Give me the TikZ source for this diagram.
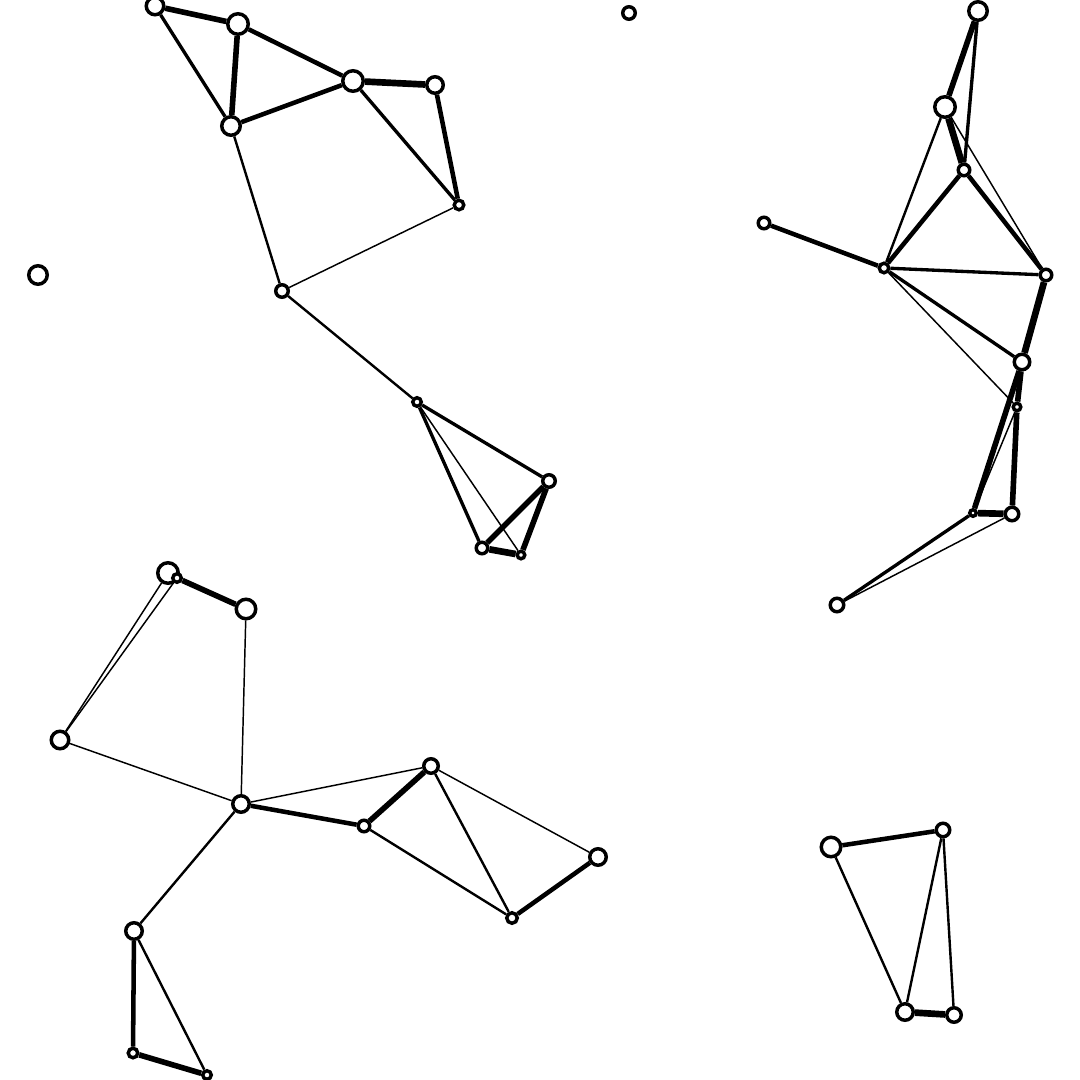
\documentclass[tikz,border=0pt]{standalone}
\usetikzlibrary{backgrounds}

\tikzset{every picture/.style={line width=0.75pt}}
\tikzset{
  vtx/.style={circle, draw, fill=white, line width=2.6pt, inner sep=0pt, minimum size={(#1-3.5)*0.75pt}},
  e1/.style={line width=1.1pt},
  e2/.style={line width=1.8pt},
  e3/.style={line width=2.5pt},
  e4/.style={line width=3.4pt},
  e5/.style={line width=4.2pt},
  e6/.style={line width=5pt}
}

\begin{document}
\begin{tikzpicture}[x=0.75pt,y=0.75pt,yscale=-1,xscale=1]
\useasboundingbox (0,0) rectangle (1080,1080);

%Vertices: top left group
\node [vtx=21] (tl1) at (155,6) {};
\node [vtx=24] (tl2) at (238,24) {};
\node [vtx=22] (tl3) at (231,126) {};
\node [vtx=24] (tl4) at (353,81) {};
\node [vtx=20] (tl5) at (435,85) {};
\node [vtx=13] (tl6) at (459,205) {};
\node [vtx=16] (tl7) at (282,291) {};
\node [vtx=12] (tl8) at (417,402) {};
\node [vtx=16] (tl9) at (549,481) {};
\node [vtx=15] (tl10) at (482,548) {};
\node [vtx=11] (tl11) at (521,555) {};
%Vertices: alone
\node [vtx=16] (solo1) at (629,13) {};
\node [vtx=22] (solo2) at (38,275) {};
%Vertices: top right group
\node [vtx=22] (tr1) at (978,11) {};
\node [vtx=24] (tr2) at (945,107) {};
\node [vtx=15] (tr3) at (964,170) {};
\node [vtx=15] (tr4) at (764,223) {};
\node [vtx=13] (tr5) at (884,268) {};
\node [vtx=15] (tr6) at (1046,275) {};
\node [vtx=19] (tr7) at (1022,362) {};
\node [vtx=11] (tr8) at (1017,407) {};
\node [vtx=10] (tr9) at (973,513) {};
\node [vtx=17] (tr10) at (1012,514) {};
\node [vtx=17] (tr11) at (837,605) {};
%Vertices: bottom left group
\node [vtx=24] (bl1) at (168,573) {};
\node [vtx=12] (bl2) at (177,578) {};
\node [vtx=23] (bl3) at (246,609) {};
\node [vtx=21] (bl4) at (60,740) {};
\node [vtx=20] (bl5) at (241,804) {};
\node [vtx=15] (bl6) at (364,826) {};
\node [vtx=18] (bl7) at (431,766) {};
\node [vtx=20] (bl8) at (598,857) {};
\node [vtx=14] (bl9) at (512,918) {};
\node [vtx=20] (bl10) at (134,931) {};
\node [vtx=13] (bl11) at (133,1053) {};
\node [vtx=12] (bl12) at (207,1075) {};
%Vertices: bottom right group
\node [vtx=23] (br1) at (831,847) {};
\node [vtx=17] (br2) at (943,830) {};
\node [vtx=20] (br3) at (905,1012) {};
\node [vtx=18] (br4) at (954,1015) {};

\begin{pgfonlayer}{background}
%Straight Lines: top left group
\draw [e5] (tl1) -- (tl2) ;
\draw [e3] (tl1) -- (tl3) ;
\draw [e5] (tl2) -- (tl3) ;
\draw [e4] (tl2) -- (tl4) ;
\draw [e4] (tl3) -- (tl4) ;
\draw [e6] (tl4) -- (tl5) ;
\draw [e3] (tl4) -- (tl6) ;
\draw [e4] (tl5) -- (tl6) ;
\draw [e2] (tl3) -- (tl7) ;
\draw [e1] (tl7) -- (tl6) ;
\draw [e2] (tl7) -- (tl8) ;
\draw [e3] (tl8) -- (tl9) ;
\draw [e3] (tl8) -- (tl10) ;
\draw [e1] (tl8) -- (tl11) ;
\draw [e5] (tl9) -- (tl10) ;
\draw [e5] (tl9) -- (tl11) ;
\draw [e6] (tl10) -- (tl11) ;
%Straight Lines: top right group
\draw [e5] (tr1) -- (tr2) ;
\draw [e3] (tr1) -- (tr3) ;
\draw [e6] (tr2) -- (tr3) ;
\draw [e2] (tr2) -- (tr5) ;
\draw [e1] (tr2) -- (tr6) ;
\draw [e4] (tr3) -- (tr5) ;
\draw [e4] (tr3) -- (tr6) ;
\draw [e4] (tr4) -- (tr5) ;
\draw [e3] (tr5) -- (tr6) ;
\draw [e3] (tr5) -- (tr7) ;
\draw [e1] (tr5) -- (tr8) ;
\draw [e6] (tr6) -- (tr7) ;
\draw [e5] (tr7) -- (tr8) ;
\draw [e5] (tr7) -- (tr9) ;
\draw [e5] (tr8) -- (tr10) ;
\draw [e1] (tr8) -- (tr9) ;
\draw [e6] (tr9) -- (tr10) ;
\draw [e3] (tr9) -- (tr11) ;
\draw [e1] (tr10) -- (tr11) ;
%Straight Lines: bottom left group
\draw [e5] (bl2) -- (bl3) ;
\draw [e1] (bl1) -- (bl4) ;
\draw [e1] (bl2) -- (bl4) ;
\draw [e1] (bl3) -- (bl5) ;
\draw [e1] (bl4) -- (bl5) ;
\draw [e1] (bl5) -- (bl7) ;
\draw [e4] (bl5) -- (bl6) ;
\draw [e5] (bl6) -- (bl7) ;
\draw [e2] (bl6) -- (bl9) ;
\draw [e2] (bl7) -- (bl9) ;
\draw [e1] (bl7) -- (bl8) ;
\draw [e4] (bl8) -- (bl9) ;
\draw [e2] (bl5) -- (bl10) ;
\draw [e4] (bl10) -- (bl11) ;
\draw [e2] (bl10) -- (bl12) ;
\draw [e5] (bl11) -- (bl12) ;
%Straight Lines: bottom right group
\draw [e4] (br1) -- (br2) ;
\draw [e2] (br1) -- (br3) ;
\draw [e2] (br2) -- (br3) ;
\draw [e2] (br2) -- (br4) ;
\draw [e6] (br3) -- (br4) ;
\end{pgfonlayer}
\end{tikzpicture}
\end{document}
